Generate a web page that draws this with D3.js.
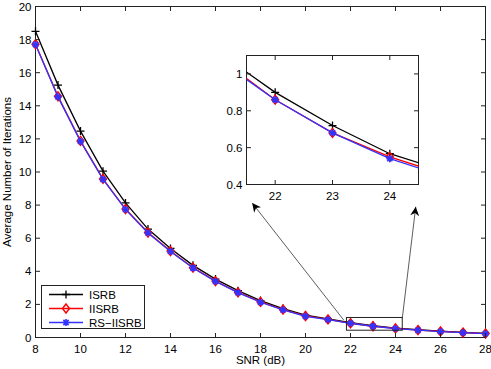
<html>
<head>
  <meta charset="utf-8">
  <script src="https://d3js.org/d3.v7.min.js"></script>
  <style>
    body { margin: 0; background: #fff; }
    text { font-family: "Liberation Sans", Arial, sans-serif; fill: #000; }
  </style>
</head>
<body>
  <svg id="chart" width="491" height="369"></svg>
  <script>
    // SNR points and average iterations
    const snr = [8, 9, 10, 11, 12, 13, 14, 15, 16, 17, 18, 19, 20, 21, 22, 23, 24, 25, 26, 27, 28];
    const isrb = [18.5, 15.25, 12.47, 10.05, 8.13, 6.55, 5.38, 4.36, 3.53, 2.83, 2.23, 1.75, 1.35, 1.12, 0.90, 0.72, 0.567, 0.47, 0.38, 0.31, 0.25];
    const iisrb = [17.72, 14.57, 11.88, 9.58, 7.76, 6.34, 5.22, 4.22, 3.41, 2.73, 2.15, 1.69, 1.30, 1.09, 0.86, 0.68, 0.55, 0.45, 0.37, 0.30, 0.24];
    const rsiisrb = [17.7, 14.54, 11.85, 9.55, 7.74, 6.32, 5.2, 4.2, 3.39, 2.71, 2.13, 1.67, 1.28, 1.08, 0.86, 0.68, 0.54, 0.44, 0.36, 0.29, 0.23];

    const xTicks = [8, 10, 12, 14, 16, 18, 20, 22, 24, 26, 28];
    const yTicks = [0, 2, 4, 6, 8, 10, 12, 14, 16, 18, 20];
    const insetXTicks = [22, 23, 24];
    const insetYTicks = [0.4, 0.6, 0.8, 1];

    const seriesNames = ["ISRB", "IISRB", "RS\u2212IISRB"];

    // zoom box (data units of the main plot) and the arrows to the inset
    const zoomBox = { x0: 21.82, x1: 24.3, y0: 0.44, y1: 1.21 };
    const arrowFrom = [[21.7, 1.05], [24.3, 1.15]];
    const arrowTo = [[17.63, 8.13], [24.9, 7.9]];

    const svg = d3.select("#chart");
    const main = { left: 35.5, right: 485.5, top: 6.5, bottom: 337.5 };
    const inset = { left: 246.5, right: 418.5, top: 55.5, bottom: 184.5 };
    const fs = 11.5;

    const x = d3.scaleLinear().domain([8, 28]).range([main.left, main.right]);
    const y = d3.scaleLinear().domain([0, 20]).range([main.bottom, main.top]);
    const xi = d3.scaleLinear().domain([21.5, 24.5]).range([inset.left, inset.right]);
    const yi = d3.scaleLinear().domain([0.4, 1.1]).range([inset.bottom, inset.top]);

    const rows = snr.map((s, i) => ({ s, v: [isrb[i], iisrb[i], rsiisrb[i]] }));
    const colors = ["#000", "#ff0000", "#3333ff"];

    function drawFrame(g, b) {
      g.append("rect")
        .attr("x", b.left).attr("y", b.top)
        .attr("width", b.right - b.left).attr("height", b.bottom - b.top)
        .attr("fill", "#fff").attr("stroke", "#222").attr("stroke-width", 1);
    }

    function drawTicks(g, xs, ys, b, xt, yt, fmtY) {
      const len = 4.5;
      xt.forEach(t => {
        const px = xs(t);
        g.append("line").attr("x1", px).attr("x2", px).attr("y1", b.bottom).attr("y2", b.bottom - len).attr("stroke", "#222");
        g.append("line").attr("x1", px).attr("x2", px).attr("y1", b.top).attr("y2", b.top + len).attr("stroke", "#222");
        g.append("text").attr("x", px).attr("y", b.bottom + 15).attr("text-anchor", "middle")
          .style("font-size", fs + "px").text(t);
      });
      yt.forEach(t => {
        const py = ys(t);
        g.append("line").attr("x1", b.left).attr("x2", b.left + len).attr("y1", py).attr("y2", py).attr("stroke", "#222");
        g.append("line").attr("x1", b.right).attr("x2", b.right - len).attr("y1", py).attr("y2", py).attr("stroke", "#222");
        g.append("text").attr("x", b.left - 4).attr("y", py + 4).attr("text-anchor", "end")
          .style("font-size", fs + "px").text(fmtY(t));
      });
    }

    function marker(g, k, cx, cy) {
      if (k === 0) {
        g.append("path").attr("d", `M${cx - 4},${cy}H${cx + 4}M${cx},${cy - 4}V${cy + 4}`)
          .attr("stroke", "#000").attr("stroke-width", 1.3);
      } else if (k === 1) {
        g.append("path").attr("d", `M${cx},${cy - 4.5}L${cx + 3.5},${cy}L${cx},${cy + 4.5}L${cx - 3.5},${cy}Z`)
          .attr("fill", "none").attr("stroke", colors[1]).attr("stroke-width", 1.4);
      } else {
        g.append("path").attr("d",
          `M${cx - 3.5},${cy}H${cx + 3.5}M${cx},${cy - 3.5}V${cy + 3.5}M${cx - 2.6},${cy - 2.6}L${cx + 2.6},${cy + 2.6}M${cx - 2.6},${cy + 2.6}L${cx + 2.6},${cy - 2.6}`)
          .attr("stroke", colors[2]).attr("stroke-width", 1.6);
      }
    }

    function drawSeries(g, xs, ys, data, clipId) {
      const area = g.append("g").attr("clip-path", clipId ? `url(#${clipId})` : null);
      [0, 1, 2].forEach(k => {
        const line = d3.line().x(d => xs(d.s)).y(d => ys(d.v[k]));
        area.append("path").datum(data).attr("d", line)
          .attr("fill", "none").attr("stroke", colors[k]).attr("stroke-width", 1.3);
        data.forEach(d => {
          if (xs(d.s) >= xs.range()[0] - 1 && xs(d.s) <= xs.range()[1] + 1) marker(area, k, xs(d.s), ys(d.v[k]));
        });
      });
    }

    // main plot
    const mainG = svg.append("g");
    drawFrame(mainG, main);
    drawSeries(mainG, x, y, rows, null);
    drawTicks(mainG, x, y, main, xTicks, yTicks, d => d);

    mainG.append("text").attr("x", (main.left + main.right) / 2).attr("y", 364)
      .attr("text-anchor", "middle").style("font-size", fs + "px").text("SNR (dB)");
    mainG.append("text").attr("transform", `translate(11,${(main.top + main.bottom) / 2}) rotate(-90)`)
      .attr("text-anchor", "middle").style("font-size", fs + "px").text("Average Number of Iterations");

    // zoom rectangle
    mainG.append("rect")
      .attr("x", x(zoomBox.x0)).attr("y", y(zoomBox.y1))
      .attr("width", x(zoomBox.x1) - x(zoomBox.x0)).attr("height", y(zoomBox.y0) - y(zoomBox.y1))
      .attr("fill", "none").attr("stroke", "#222").attr("stroke-width", 1);

    // arrows
    svg.append("defs").append("marker")
      .attr("id", "head").attr("viewBox", "0 0 10 10").attr("refX", 10).attr("refY", 5)
      .attr("markerWidth", 11).attr("markerHeight", 9).attr("markerUnits", "userSpaceOnUse")
      .attr("orient", "auto")
      .append("path").attr("d", "M0,0L10,5L0,10L3,5Z").attr("fill", "#000");
    arrowFrom.forEach((a, i) => {
      mainG.append("line")
        .attr("x1", x(a[0])).attr("y1", y(a[1]))
        .attr("x2", x(arrowTo[i][0])).attr("y2", y(arrowTo[i][1]))
        .attr("stroke", "#333").attr("stroke-width", 0.8).attr("marker-end", "url(#head)");
    });

    // legend
    const leg = svg.append("g");
    leg.append("rect").attr("x", 41.5).attr("y", 285.5).attr("width", 103).attr("height", 43)
      .attr("fill", "#fff").attr("stroke", "#222");
    seriesNames.forEach((n, k) => {
      const ly = 294.5 + k * 14;
      leg.append("line").attr("x1", 49).attr("x2", 83).attr("y1", ly).attr("y2", ly)
        .attr("stroke", colors[k]).attr("stroke-width", 1.3);
      marker(leg, k, 66, ly);
      leg.append("text").attr("x", 89).attr("y", ly + 4).style("font-size", fs + "px").text(n);
    });

    // inset
    const insG = svg.append("g");
    insG.append("clipPath").attr("id", "insclip").append("rect")
      .attr("x", inset.left).attr("y", inset.top)
      .attr("width", inset.right - inset.left).attr("height", inset.bottom - inset.top);
    drawFrame(insG, inset);
    drawSeries(insG, xi, yi, rows, "insclip");
    drawTicks(insG, xi, yi, inset, insetXTicks, insetYTicks, d => d3.format("")(d));
  </script>
</body>
</html>
